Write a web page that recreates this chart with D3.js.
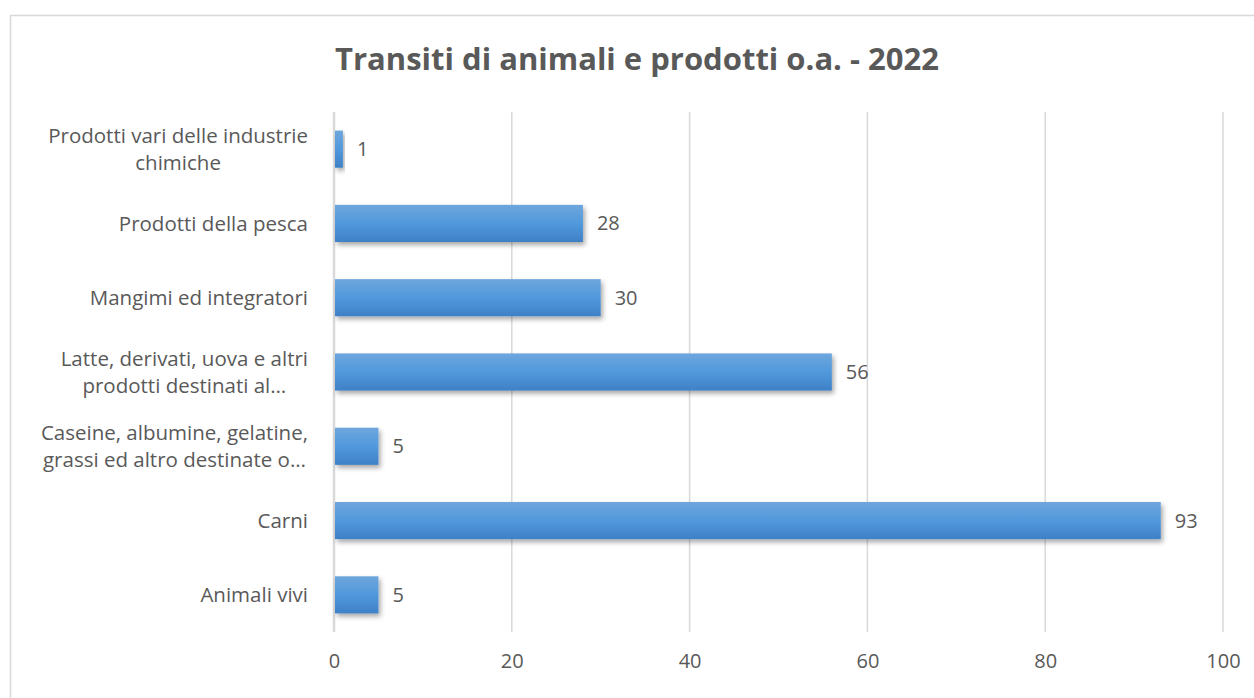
<!DOCTYPE html>
<html><head><meta charset="utf-8">
<script src="https://cdn.jsdelivr.net/npm/d3@7"></script>
<style>body{margin:0;background:#fff}svg{display:block}</style>
</head><body>
<svg id="c" width="1254" height="698"></svg>
<script>
const categories = [
  ["Prodotti vari delle industrie", "chimiche"],
  ["Prodotti della pesca"],
  ["Mangimi ed integratori"],
  ["Latte, derivati, uova e altri", "prodotti destinati al…"],
  ["Caseine, albumine, gelatine,", "grassi ed altro destinate o…"],
  ["Carni"],
  ["Animali vivi"]
];
const values = [1, 28, 30, 56, 5, 93, 5];
const xTicks = [0, 20, 40, 60, 80, 100];
const title = "Transiti di animali e prodotti o.a. - 2022";

const svg = d3.select("#c");
const font = "'Open Sans', Carlito, sans-serif";
const textColor = "#595959";
const fs = 20;
const fsCat = 20.5;

const defs = svg.append("defs");
const grad = defs.append("linearGradient").attr("id","bg").attr("x1",0).attr("y1",0).attr("x2",0).attr("y2",1);
grad.append("stop").attr("offset","0%").attr("stop-color","#6ea6dd");
grad.append("stop").attr("offset","50%").attr("stop-color","#5199dc");
grad.append("stop").attr("offset","100%").attr("stop-color","#3f80c6");
const f = defs.append("filter").attr("id","sh").attr("x","-10%").attr("y","-30%").attr("width","130%").attr("height","180%");
f.append("feDropShadow").attr("dx",2).attr("dy",3).attr("stdDeviation",2.5).attr("flood-color","#000").attr("flood-opacity",0.35);

// chart border
svg.append("rect").attr("x",10.5).attr("y",15.5).attr("width",1260).attr("height",700)
  .attr("fill","#fff").attr("stroke","#d9d9d9").attr("stroke-width",1.5);

svg.append("text").attr("x",637).attr("y",70).attr("text-anchor","middle")
  .attr("font-family",font).attr("font-weight","bold").attr("font-size",31)
  .attr("fill",textColor).text(title);

const x = d3.scaleLinear().domain([0,100]).range([334,1223]);
const y = d3.scaleBand().domain(d3.range(categories.length)).range([112,632]).paddingInner(0.5).paddingOuter(0.25);

// gridlines
svg.append("g").selectAll("line").data(xTicks).join("line")
  .attr("x1",d=>x(d)).attr("x2",d=>x(d)).attr("y1",112).attr("y2",632)
  .attr("stroke","#d9d9d9").attr("stroke-width",d=>d===0?2.5:1.5);

// x axis labels
const xAxis = d3.axisBottom(x).tickValues(xTicks).tickSize(0).tickPadding(0);
const gx = svg.append("g").attr("transform","translate(0,654)").call(xAxis);
gx.select(".domain").remove();
gx.selectAll("text").attr("font-family",font).attr("font-size",fs).attr("fill",textColor);

// bars
svg.append("g").selectAll("rect").data(values).join("rect")
  .attr("x",x(0)+1).attr("y",(d,i)=>y(i)).attr("height",y.bandwidth())
  .attr("width",d=>x(d)-x(0)-1).attr("fill","url(#bg)").attr("filter","url(#sh)");

// value labels
svg.append("g").selectAll("text").data(values).join("text")
  .attr("x",d=>x(d)+14).attr("y",(d,i)=>y(i)+y.bandwidth()/2).attr("dy","0.35em")
  .attr("font-family",font).attr("font-size",fs).attr("fill",textColor).text(d=>d);

// category labels
const lineH = 27;
const lab = svg.append("g");
categories.forEach((lines,i)=>{
  const cy = y(i)+y.bandwidth()/2;
  const t = lab.append("text").attr("font-family",font).attr("font-size",fsCat).attr("fill",textColor)
    .attr("text-anchor","middle");
  lines.forEach((l,j)=>{
    t.append("tspan").attr("x",0).attr("y",cy+(j-(lines.length-1)/2)*lineH).attr("dy","0.35em").text(l);
  });
  const w = t.node().getBBox().width;
  t.selectAll("tspan").attr("x",308-w/2);
});
</script>
</body></html>
